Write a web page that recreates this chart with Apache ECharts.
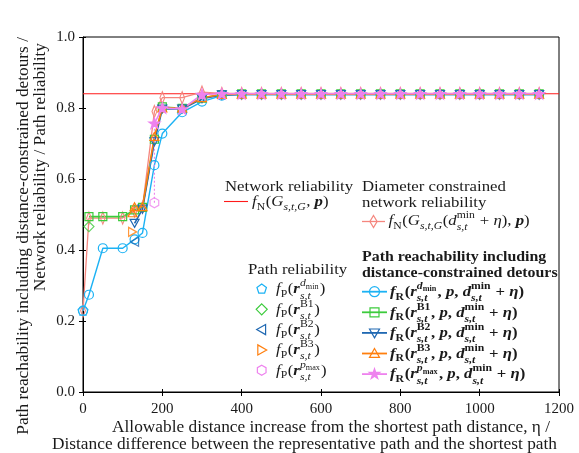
<!DOCTYPE html>
<html><head><meta charset="utf-8">
<script src="https://cdn.jsdelivr.net/npm/echarts@6/dist/echarts.min.js"></script>
<style>html,body{margin:0;padding:0;background:#fff}#c{width:579px;height:453px}</style>
</head><body><div id="c"></div>
<script>
// ---------------- data ----------------
const xTicks = [0, 200, 400, 600, 800, 1000, 1200];
const yTicks = [0.0, 0.2, 0.4, 0.6, 0.8, 1.0];
const networkReliability = 0.84;
const networkRange = [0, 1200];

const eta = [0, 15, 50, 100, 130, 150, 180, 200, 250, 300, 350, 400, 450, 500, 550, 600, 650, 700, 750, 800, 850, 900, 950, 1000, 1050, 1100, 1150];
const diamConstrained = [0.229, 0.490, 0.490, 0.490, 0.510, 0.520, 0.790, 0.829, 0.829, 0.845, 0.841, 0.841, 0.841, 0.841, 0.841, 0.841, 0.841, 0.841, 0.841, 0.841, 0.841, 0.841, 0.841, 0.841, 0.841, 0.841, 0.841];
const reachDmin = [0.229, 0.274, 0.405, 0.405, 0.430, 0.448, 0.639, 0.728, 0.788, 0.818, 0.835, 0.838, 0.838, 0.838, 0.838, 0.838, 0.838, 0.838, 0.838, 0.838, 0.838, 0.838, 0.838, 0.838, 0.838, 0.838, 0.838];

const etaB1 = [15, 50, 100, 130, 150, 180, 200, 250, 300, 350, 400, 450, 500, 550, 600, 650, 700, 750, 800, 850, 900, 950, 1000, 1050, 1100, 1150];
const reachB1 = [0.494, 0.494, 0.494, 0.513, 0.520, 0.712, 0.803, 0.799, 0.828, 0.838, 0.840, 0.840, 0.840, 0.840, 0.840, 0.840, 0.840, 0.840, 0.840, 0.840, 0.840, 0.840, 0.840, 0.840, 0.840, 0.840];

const etaB2 = [130, 150, 180, 200, 250, 300, 350, 400, 450, 500, 550, 600, 650, 700, 750, 800, 850, 900, 950, 1000, 1050, 1100, 1150];
const reachB2 = [0.475, 0.515, 0.705, 0.797, 0.797, 0.826, 0.837, 0.838, 0.838, 0.838, 0.838, 0.838, 0.838, 0.838, 0.838, 0.838, 0.838, 0.838, 0.838, 0.838, 0.838, 0.838, 0.838];

const etaB3 = [125, 130, 150, 180, 200, 250, 300, 350, 400, 450, 500, 550, 600, 650, 700, 750, 800, 850, 900, 950, 1000, 1050, 1100, 1150];
const reachB3 = [0.505, 0.522, 0.522, 0.720, 0.800, 0.800, 0.829, 0.838, 0.839, 0.839, 0.839, 0.839, 0.839, 0.839, 0.839, 0.839, 0.839, 0.839, 0.839, 0.839, 0.839, 0.839, 0.839, 0.839];

const etaPmax = [180, 200, 250, 300, 350, 400, 450, 500, 550, 600, 650, 700, 750, 800, 850, 900, 950, 1000, 1050, 1100, 1150];
const reachPmax = [0.757, 0.800, 0.797, 0.838, 0.840, 0.840, 0.840, 0.840, 0.840, 0.840, 0.840, 0.840, 0.840, 0.840, 0.840, 0.840, 0.840, 0.840, 0.840, 0.840, 0.840];

// path reliability: [distance difference, reliability]
const pathRelDmin = [0, 0.229];
const pathRelB1 = [15, 0.466];
const pathRelB2 = [130, 0.423];
const pathRelB3 = [125, 0.451];
const pathRelPmax = [180, 0.533];

// ---------------- style ----------------
const FONT = '"Liberation Serif","Times New Roman",serif';
const TXT = '#1a1a1a';
const C = {red:'#ff1a1a', salmon:'#f5867e', dmin:'#1cb2f4', B1:'#3ccb3c', B2:'#1f68b2', B3:'#ff7f0e', pmax:'#ee82ee'};

// marker outlines (unit coordinates, ~[-10,10])
const SH = {
  triUp: [[0,-9],[9,7],[-9,7]],
  triDown: [[0,9],[9,-7],[-9,-7]],
  triLeft: [[-9,0],[7,-9],[7,9]],
  triRight: [[9,0],[-7,-9],[-7,9]],
  diamond: [[0,-10],[10,0],[0,10],[-10,0]],
  thinDiamond: [[0,-10],[6,0],[0,10],[-6,0]],
  pentagon: [[0,-10],[9.51,-3.09],[5.88,8.09],[-5.88,8.09],[-9.51,-3.09]],
  hexagon: [[0,-10],[8.66,-5],[8.66,5],[0,10],[-8.66,5],[-8.66,-5]],
  star: [[0,-10],[2.245,-3.09],[9.51,-3.09],[3.633,1.18],[5.878,8.09],[0,3.82],[-5.878,8.09],[-3.633,1.18],[-9.51,-3.09],[-2.245,-3.09]]
};
const sym = k => (k === 'circle' || k === 'rect') ? k :
  'path://M' + SH[k].map(p => p[0] + ',' + p[1]).join('L') + 'Z';

const mk = (xs, ys) => xs.map((x, k) => [x, ys[k]]);

// ---------------- text helpers ----------------
const cv = document.createElement('canvas').getContext('2d');
function fstr(sz, it, bd){ return (it?'italic ':'') + (bd?'bold ':'') + sz + 'px ' + FONT; }
function tw(t, sz, it, bd){ cv.font = fstr(sz, it, bd); return cv.measureText(t).width; }
const G = [];
const LINE2 = 'Distance difference between the representative path and the shortest path';
const SX = 505 / tw(LINE2, 16);

function txt(t, x, y, sz, it, bd, opt){
  opt = opt || {};
  G.push({type:'text', x:x, y:y, rotation: opt.rot || 0, scaleX: opt.sx || SX, scaleY: 1, silent:true, z:100,
    style:{text:t, fontSize:sz, fontFamily:FONT, fontStyle: it?'italic':'normal', fontWeight: bd?'bold':'normal',
      fill:TXT, textAlign: opt.align || 'left', align: opt.align || 'left', textVerticalAlign:'middle', verticalAlign:'middle'}});
}
function rs(seq, x, base, sz){
  for (const it of seq){
    if (it.t !== undefined){
      txt(it.t, x, base - 0.3*sz, sz, it.i, it.b);
      x += tw(it.t, sz, it.i, it.b) * SX;
    } else {
      const s = sz * 0.7;
      let e = x;
      if (it.sup) e = Math.max(e, rs(it.sup, x, base - 0.47*sz, s));
      if (it.sub) e = Math.max(e, rs(it.sub, x, base + (it.sup ? 0.32 : 0.22)*sz, s));
      x = e + 0.6;
    }
  }
  return x;
}
const I = t => ({t:t, i:1}), R = t => ({t:t}), B = t => ({t:t, b:1}), BI = t => ({t:t, i:1, b:1});
const fN = [I('f'), {sub:[R('N')]}, R('('), I('G'), {sub:[I('s,t,G')]}, R(', '), BI('p'), R(')')];
const fNd = [I('f'), {sub:[R('N')]}, R('('), I('G'), {sub:[I('s,t,G')]}, R('('), I('d'), {sup:[R('min')], sub:[I('s,t')]}, R(' + '), I('η'), R('), '), BI('p'), R(')')];
const fP = sup => [I('f'), {sub:[R('P')]}, R('('), BI('r'), {sup:sup, sub:[I('s,t')]}, R(')')];
const fR = sup => [BI('f'), {sub:[B('R')]}, B('('), BI('r'), {sup:sup, sub:[BI('s,t')]}, B(', '), BI('p'), B(', '), BI('d'), {sup:[B('min')], sub:[BI('s,t')]}, B(' + '), BI('η'), B(')')];

function lineS(x1, x2, y, color, w, dash){
  G.push({type:'line', silent:true, z:100, shape:{x1:x1, y1:y, x2:x2, y2:y}, style:{stroke:color, lineWidth:w, lineDash:dash || null}});
}
function markS(kind, cx, cy, size, color, fill){
  const st = {stroke:color, lineWidth:1.2, fill: fill ? color : 'rgba(255,255,255,0)'};
  if (kind === 'circle') G.push({type:'circle', silent:true, z:101, shape:{cx:cx, cy:cy, r:size/2}, style:st});
  else if (kind === 'rect') G.push({type:'rect', silent:true, z:101, shape:{x:cx-size/2, y:cy-size/2, width:size, height:size}, style:st});
  else {
    const pts = SH[kind];
    let mx = 0; pts.forEach(p => { mx = Math.max(mx, Math.abs(p[0]), Math.abs(p[1])); });
    const s = size / 2 / mx;
    G.push({type:'polygon', silent:true, z:101, shape:{points: pts.map(p => [cx + p[0]*s, cy + p[1]*s])}, style:st});
  }
}

// axis titles
txt('Allowable distance increase from the shortest path distance, η /', 550, 428, 16, 0, 0, {align:'right'});
txt(LINE2, 557, 444.5, 16, 0, 0, {align:'right'});
txt('Path reachability including distance-constrained detours /', 24, 37, 16, 0, 0, {align:'right', rot:Math.PI/2});
txt('Network reliability / Path reliability', 41, 43, 16, 0, 0, {align:'right', rot:Math.PI/2});

// legend: network reliability
const LS = 15.5;
txt('Network reliability', 225, 186.5, LS);
lineS(224, 248, 201.5, C.red, 1.1);
rs(fN, 252, 206.5, LS);
// diameter constrained
txt('Diameter constrained', 362, 186.5, LS);
txt('network reliability', 362, 202.5, LS);
lineS(362, 385, 221.5, C.salmon, 1.3);
markS('thinDiamond', 373.5, 221.5, 12, C.salmon);
rs(fNd, 388.5, 225.5, LS);
// path reliability
txt('Path reliability', 248, 270, LS);
const pLeg = [
  ['pentagon', C.dmin, [I('d'), {sub:[R('min')]}]],
  ['diamond', C.B1, [R('B1')]],
  ['triLeft', C.B2, [R('B2')]],
  ['triRight', C.B3, [R('B3')]],
  ['hexagon', C.pmax, [I('p'), {sub:[R('max')]}]]
];
pLeg.forEach((e, k) => {
  const y = 289 + 20.3*k;
  markS(e[0], 261.7, y, e[0] === 'diamond' ? 11 : 10, e[1]);
  rs(fP(e[2]), 276, y + 5, LS);
});
// path reachability
const BS = 14.7;
txt('Path reachability including', 362, 257.5, BS, 0, 1);
txt('distance-constrained detours', 362, 273.5, BS, 0, 1);
const rLeg = [
  ['circle', C.dmin, [BI('d'), {sub:[B('min')]}], 0],
  ['rect', C.B1, [B('B1')], 0],
  ['triDown', C.B2, [B('B2')], 0],
  ['triUp', C.B3, [B('B3')], 0],
  ['star', C.pmax, [BI('p'), {sub:[B('max')]}], 1]
];
rLeg.forEach((e, k) => {
  const y = 291.7 + 20.6*k;
  lineS(362, 387, y, e[1], 1.8);
  markS(e[0], 374.5, y, e[0] === 'rect' ? 9 : (e[0] === 'star' ? 11 : 10), e[1], e[3]);
  rs(fR(e[2]), 390, y + 5, LS);
});

// ---------------- chart ----------------
function lineSeries(data, color, symbol, size, width, filled, extra){
  return Object.assign({
    type:'line', data:data, symbol:sym(symbol), symbolSize:size, symbolKeepAspect:true, showSymbol:true,
    clip:false, silent:true, animation:false,
    lineStyle:{color:color, width:width},
    itemStyle:{color: filled ? color : 'rgba(255,255,255,0)', borderColor:color, borderWidth:1.2},
    emphasis:{disabled:true}
  }, extra || {});
}
function pointSeries(pt, color, symbol, size){
  return {type:'scatter', data:[pt], symbol:sym(symbol), symbolSize:size, symbolKeepAspect:true, clip:false, silent:true,
    itemStyle:{color:'rgba(255,255,255,0)', borderColor:color, borderWidth:1.2}, emphasis:{disabled:true}, z:3};
}

const axisCommon = {
  axisLine:{show:true, lineStyle:{color:'#000', width:1}},
  splitLine:{show:false},
};
const option = {
  animation:false,
  backgroundColor:'#fff',
  grid:{left:83, right:20, top:37, bottom:61, show:true, borderColor:'#000', borderWidth:1, backgroundColor:'transparent'},
  xAxis:[
    Object.assign({type:'value', min:xTicks[0], max:xTicks[xTicks.length-1], interval:xTicks[1]-xTicks[0],
      axisTick:{show:true, length:4, lineStyle:{color:'#000'}},
      axisLabel:{fontFamily:FONT, fontSize:15, color:TXT, margin:10, formatter: v => String(v)}}, axisCommon),
    {type:'value', position:'bottom', min:xTicks[0], max:xTicks[xTicks.length-1], interval:xTicks[1]-xTicks[0],
      axisLine:{show:false}, axisTick:{show:true, inside:true, length:3, lineStyle:{color:'#000'}}, axisLabel:{show:false}, splitLine:{show:false}}
  ],
  yAxis:[
    Object.assign({type:'value', min:yTicks[0], max:yTicks[yTicks.length-1], interval:0.2,
      axisTick:{show:true, length:4, lineStyle:{color:'#000'}},
      axisLabel:{fontFamily:FONT, fontSize:15, color:TXT, margin:8, formatter: v => v.toFixed(1)}}, axisCommon),
    {type:'value', position:'left', min:yTicks[0], max:yTicks[yTicks.length-1], interval:0.2,
      axisLine:{show:false}, axisTick:{show:true, inside:true, length:3, lineStyle:{color:'#000'}}, axisLabel:{show:false}, splitLine:{show:false}}
  ],
  series:[
    {type:'line', data:[[networkRange[0], networkReliability],[networkRange[1], networkReliability]], showSymbol:false, symbol:'none',
      lineStyle:{color:C.red, width:1.1}, silent:true, clip:true, emphasis:{disabled:true}},
    lineSeries(mk(eta, diamConstrained), C.salmon, 'thinDiamond', [8,12], 1.3, false),
    lineSeries(mk(eta, reachDmin), C.dmin, 'circle', 9, 1.4, false),
    lineSeries(mk(etaB1, reachB1), C.B1, 'rect', 8, 1.6, false),
    lineSeries(mk(etaB2, reachB2), C.B2, 'triDown', 9, 1.6, false),
    lineSeries(mk(etaB3, reachB3), C.B3, 'triUp', 9, 1.6, false),
    lineSeries(mk(etaPmax, reachPmax), C.pmax, 'star', 11, 1.6, true),
    lineSeries([pathRelPmax, [etaPmax[0], reachPmax[0]]], C.pmax, 'circle', 0, 1.1, false, {showSymbol:false, symbol:'none', lineStyle:{color:C.pmax, width:1.1, type:[2,2]}}),
    pointSeries(pathRelDmin, C.dmin, 'pentagon', 10),
    pointSeries(pathRelB1, C.B1, 'diamond', 10),
    pointSeries(pathRelB2, C.B2, 'triLeft', 9),
    pointSeries(pathRelB3, C.B3, 'triRight', 9),
    pointSeries(pathRelPmax, C.pmax, 'hexagon', 10)
  ],
  graphic:{elements:G}
};
const chart = echarts.init(document.getElementById('c'), null, {renderer:'canvas'});
chart.setOption(option);
</script>
</body></html>
